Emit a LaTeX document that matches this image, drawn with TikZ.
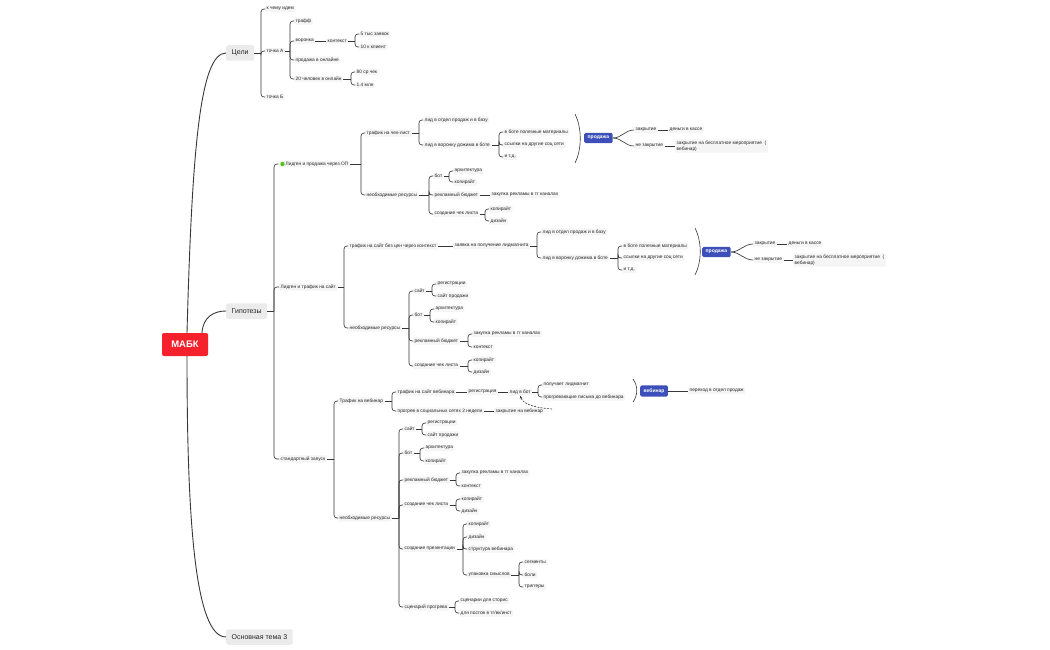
\documentclass[tikz,border=0pt]{standalone}
\usepackage{fontspec}
\setmainfont{Liberation Sans}
\usepackage{xcolor}
\usepackage{tikz}
\usetikzlibrary{arrows.meta,calc}
\definecolor{rootred}{RGB}{245,34,45}
\definecolor{topicgray}{RGB}{235,235,235}
\definecolor{itemgray}{RGB}{245,245,245}
\definecolor{saleblue}{RGB}{61,80,186}
\definecolor{linegray}{RGB}{55,55,55}
\definecolor{okgreen}{RGB}{82,196,26}
\definecolor{txt}{RGB}{38,38,38}
\tikzset{
    root/.style={rectangle,fill=rootred,rounded corners=2pt,minimum width=46pt,minimum height=23pt,text=white,font=\fontsize{9.5}{11}\selectfont\bfseries},
    topic/.style={rectangle,fill=topicgray,rounded corners=2pt,minimum height=15.5pt,inner xsep=5.5pt,anchor=west,text=txt,font=\fontsize{7}{8}\selectfont},
    item/.style={rectangle,fill=itemgray,rounded corners=1pt,inner xsep=1.5pt,inner ysep=1.3pt,anchor=west,text=txt,font=\fontsize{4.8}{6}\selectfont},
    sale/.style={rectangle,fill=saleblue,rounded corners=1.5pt,minimum height=9.5pt,inner xsep=3.5pt,anchor=west,text=white,font=\fontsize{5}{6}\selectfont\bfseries},
    link/.style={draw=linegray,line width=0.65pt},
    trunk/.style={draw=linegray,line width=0.9pt},
    paren/.style={draw=linegray,line width=0.6pt},
    backarrow/.style={draw=linegray,line width=0.6pt,dash pattern=on 2pt off 1.2pt,-{Stealth[length=3pt,width=2.6pt]}},
}
% #1 parent, #2 first child, #3 all children
\newcommand{\fork}[3]{%
  \coordinate (#1-f) at ($(#2.west |- #1.east)+(-4,0)$);
  \draw[link] (#1.east) -- (#1-f);
  \foreach \ch in {#3} {\draw[link,rounded corners=3pt] (#1-f) |- (\ch.west);}
}

\begin{document}
\begin{tikzpicture}[x=1pt,y=-1pt]
\useasboundingbox (0,0) rectangle (1050,650);

% root and main topics
\node[root] (root) at (185,344.5) {МАБК};
\node[topic] (g) at (226,53) {Цели};
\node[topic] (h) at (226,311) {Гипотезы};
\node[topic] (t3) at (226,637) {Основная тема 3};
\draw[trunk] ([xshift=2pt]root.north) .. controls +(5,-183) and +(-26,0) .. (g.west);
\draw[trunk] ([xshift=17pt]root.north) .. controls +(1,-16) and +(-12,0) .. (h.west);
\draw[trunk] ([xshift=2pt]root.south) .. controls +(0,164) and +(-31,0) .. (t3.west);

% goals
\node[item] (gIdem) at (265,9) {к чему идем};
\node[item] (gA) at (265,51) {точка А};
\node[item] (gB) at (265,97) {точка Б};
\node[item] (gTraf) at (294,21) {трафф};
\node[item] (gVor) at (294,41) {воронка};
\node[item] (gSale) at (294,60) {продажа в онлайне};
\node[item] (g20) at (294,79) {20 человек в онлайн};
\node[item] (gKont) at (326,41) {контекст};
\node[item] (g5) at (359,34) {5 тыс заявок};
\node[item] (g10) at (359,47) {10 к клиент};
\node[item] (g80) at (355,72) {80 ср чек};
\node[item] (g14) at (355,85) {1.4 млн};
\fork{g}{gIdem}{gIdem,gA,gB}
\fork{gA}{gTraf}{gTraf,gVor,gSale,g20}
\draw[link] (gVor.east) -- (gKont.west);
\fork{gKont}{g5}{g5,g10}
\fork{g20}{g80}{g80,g14}

% hypotheses
\node[item] (h1) at (278,164) {\hspace{6pt}Лидген и продажа через ОП};
\fill[okgreen] ([xshift=4.5pt]h1.west) circle (2.2pt);
\node[item] (h2) at (279,287) {Лидген и трафик на сайт};
\node[item] (h3) at (279,459) {стандартный запуск};
\fork{h}{h1}{h1,h2,h3}

% hypothesis 1
\node[item] (h1t) at (365,133) {трафик на чек-лист};
\node[item] (h1r) at (365,195) {необходимые ресурсы};
\node[item] (h1t1) at (423,120) {лид в отдел продаж и в базу};
\node[item] (h1t2) at (423,145) {лид в воронку дожима в боте};
\node[item] (h1m1) at (503,132) {в боте полезные материалы};
\node[item] (h1m2) at (503,145) {ссылки на другие соц сети};
\node[item] (h1m3) at (503,157) {и т.д.};
\draw[paren] (575,114) .. controls (582,128) and (582,149) .. (575,163);
\node[sale] (h1s) at (584,138) {продажа};
\node[item] (h1z) at (634,130) {закрытие};
\node[item] (h1n) at (634,146) {не закрытие};
\node[item] (h1zd) at (668,130) {деньги в кассе};
\node[item,align=left] (h1nd) at (675,146) {закрытие на бесплатное мероприятие~~(\\вебинар)};
\node[item] (h1rb) at (433,176) {бот};
\node[item] (h1rr) at (433,195) {рекламный бюджет};
\node[item] (h1rc) at (433,214) {создание чек листа};
\node[item] (h1rb1) at (453,171) {архитектура};
\node[item] (h1rb2) at (453,182) {копирайт};
\node[item] (h1rr1) at (490,195) {закупка рекламы в тг каналах};
\node[item] (h1rc1) at (489,209) {копирайт};
\node[item] (h1rc2) at (489,221) {дизайн};
\fork{h1}{h1t}{h1t,h1r}
\fork{h1t}{h1t1}{h1t1,h1t2}
\fork{h1t2}{h1m1}{h1m1,h1m2,h1m3}
\draw[link] (h1s.east) to[out=0,in=180] (h1z.west);
\draw[link] (h1s.east) to[out=0,in=180] (h1n.west);
\draw[link] (h1z.east) -- (h1zd.west);
\draw[link] (h1n.east) -- (h1nd.west);
\fork{h1r}{h1rb}{h1rb,h1rr,h1rc}
\fork{h1rb}{h1rb1}{h1rb1,h1rb2}
\draw[link] (h1rr.east) -- (h1rr1.west);
\fork{h1rc}{h1rc1}{h1rc1,h1rc2}

% hypothesis 2
\node[item] (h2t) at (348,246) {трафик на сайт без цен через контекст};
\node[item] (h2r) at (348,328) {необходимые ресурсы};
\node[item] (h2z) at (453,246) {заявка на получение лидмагнита};
\node[item] (h2t1) at (541,232) {лид в отдел продаж и в базу};
\node[item] (h2t2) at (541,258) {лид в воронку дожима в боте};
\node[item] (h2m1) at (622,246) {в боте полезные материалы};
\node[item] (h2m2) at (622,258) {ссылки на другие соц сети};
\node[item] (h2m3) at (622,270) {и т.д.};
\draw[paren] (695,228) .. controls (702,242) and (702,261) .. (695,275);
\node[sale] (h2s) at (702,252) {продажа};
\node[item] (h2cz) at (753,244) {закрытие};
\node[item] (h2cn) at (753,260) {не закрытие};
\node[item] (h2czd) at (787,244) {деньги в кассе};
\node[item,align=left] (h2cnd) at (793,260) {закрытие на бесплатное мероприятие~~(\\вебинар)};
\node[item] (h2rs) at (413,291) {сайт};
\node[item] (h2rb) at (413,315) {бот};
\node[item] (h2rr) at (413,341) {рекламный бюджет};
\node[item] (h2rc) at (413,366) {создание чек листа};
\node[item] (h2rs1) at (436,284) {регистрации};
\node[item] (h2rs2) at (436,296) {сайт продажи};
\node[item] (h2rb1) at (434,309) {архитектура};
\node[item] (h2rb2) at (434,322) {копирайт};
\node[item] (h2rr1) at (472,334) {закупка рекламы в тг каналах};
\node[item] (h2rr2) at (472,347) {контекст};
\node[item] (h2rc1) at (472,360) {копирайт};
\node[item] (h2rc2) at (472,372) {дизайн};
\fork{h2}{h2t}{h2t,h2r}
\draw[link] (h2t.east) -- (h2z.west);
\fork{h2z}{h2t1}{h2t1,h2t2}
\fork{h2t2}{h2m1}{h2m1,h2m2,h2m3}
\draw[link] (h2s.east) to[out=0,in=180] (h2cz.west);
\draw[link] (h2s.east) to[out=0,in=180] (h2cn.west);
\draw[link] (h2cz.east) -- (h2czd.west);
\draw[link] (h2cn.east) -- (h2cnd.west);
\fork{h2r}{h2rs}{h2rs,h2rb,h2rr,h2rc}
\fork{h2rs}{h2rs1}{h2rs1,h2rs2}
\fork{h2rb}{h2rb1}{h2rb1,h2rb2}
\fork{h2rr}{h2rr1}{h2rr1,h2rr2}
\fork{h2rc}{h2rc1}{h2rc1,h2rc2}

% hypothesis 3
\node[item] (h3t) at (338,401) {Трафик на вебинар};
\node[item] (h3r) at (338,518) {необходимые ресурсы};
\node[item] (h3t1) at (396,392) {трафик на сайт вебинара};
\node[item] (h3t2) at (396,411) {прогрев в социальных сетях 2 недели};
\node[item] (h3reg) at (467,392) {регистрация};
\node[item] (h3bot) at (508,392) {лид в бот};
\node[item] (h3b1) at (542,385) {получает лидмагнит};
\node[item] (h3b2) at (542,397) {прогревающие письма до вебинара};
\draw[paren] (633,379) .. controls (638,386) and (638,395) .. (633,402);
\node[sale] (h3w) at (640,391) {вебинар};
\node[item] (h3wd) at (688,391) {переход в отдел продаж};
\node[item] (h3zw) at (494,411) {закрытие на вебинар};
\coordinate (h3back) at (552,409);
\node[item] (h3rs) at (403,429) {сайт};
\node[item] (h3rb) at (403,453) {бот};
\node[item] (h3rr) at (403,480) {рекламный бюджет};
\node[item] (h3rc) at (403,505) {создание чек листа};
\node[item] (h3rp) at (403,549) {создание презентации};
\node[item] (h3rg) at (403,607) {сценарий прогрева};
\node[item] (h3rs1) at (426,423) {регистрации};
\node[item] (h3rs2) at (426,435) {сайт продажи};
\node[item] (h3rb1) at (424,448) {архитектура};
\node[item] (h3rb2) at (424,461) {копирайт};
\node[item] (h3rr1) at (460,473) {закупка рекламы в тг каналах};
\node[item] (h3rr2) at (460,486) {контекст};
\node[item] (h3rc1) at (460,499) {копирайт};
\node[item] (h3rc2) at (460,511) {дизайн};
\node[item] (h3rp1) at (467,524) {копирайт};
\node[item] (h3rp2) at (467,537) {дизайн};
\node[item] (h3rp3) at (467,549) {структура вебинара};
\node[item] (h3rp4) at (467,575) {упаковка смыслов};
\node[item] (h3u1) at (523,562) {сегменты};
\node[item] (h3u2) at (523,575) {боли};
\node[item] (h3u3) at (523,587) {триггеры};
\node[item] (h3rg1) at (459,601) {сценарии для сторис};
\node[item] (h3rg2) at (459,613) {для постов в тг/вк/инст};
\fork{h3}{h3t}{h3t,h3r}
\fork{h3t}{h3t1}{h3t1,h3t2}
\draw[link] (h3t1.east) -- (h3reg.west);
\draw[link] (h3reg.east) -- (h3bot.west);
\fork{h3bot}{h3b1}{h3b1,h3b2}
\draw[link] (h3w.east) -- (h3wd.west);
\draw[link] (h3t2.east) -- (h3zw.west);
\draw[backarrow] (h3back) .. controls (538,408) and (523,405) .. (h3bot.south);
\fork{h3r}{h3rs}{h3rs,h3rb,h3rr,h3rc,h3rp,h3rg}
\fork{h3rs}{h3rs1}{h3rs1,h3rs2}
\fork{h3rb}{h3rb1}{h3rb1,h3rb2}
\fork{h3rr}{h3rr1}{h3rr1,h3rr2}
\fork{h3rc}{h3rc1}{h3rc1,h3rc2}
\fork{h3rp}{h3rp1}{h3rp1,h3rp2,h3rp3,h3rp4}
\fork{h3rp4}{h3u1}{h3u1,h3u2,h3u3}
\fork{h3rg}{h3rg1}{h3rg1,h3rg2}
\end{tikzpicture}
\end{document}
